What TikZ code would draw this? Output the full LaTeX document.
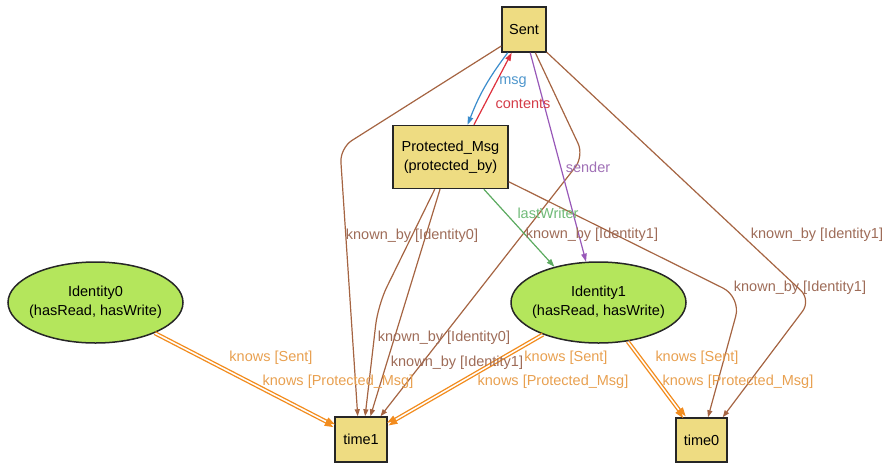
\documentclass[tikz,border=0pt]{standalone}
\usepackage{fontspec}
\setmainfont{Liberation Sans}
\usetikzlibrary{arrows.meta,shapes.geometric}

\definecolor{boxfill}{RGB}{238,220,130}
\definecolor{identfill}{RGB}{180,230,92}
\definecolor{kbline}{RGB}{165,100,66}
\definecolor{kbtext}{RGB}{158,108,88}
\definecolor{knline}{RGB}{242,140,30}
\definecolor{kntext}{RGB}{232,160,80}
\definecolor{lwline}{RGB}{92,170,96}
\definecolor{lwtext}{RGB}{112,186,120}
\definecolor{sdline}{RGB}{152,88,184}
\definecolor{sdtext}{RGB}{160,112,182}
\definecolor{msline}{RGB}{58,140,204}
\definecolor{mstext}{RGB}{78,150,204}
\definecolor{ctline}{RGB}{222,48,60}
\definecolor{cttext}{RGB}{212,60,72}

\begin{document}
\begin{tikzpicture}[x=1pt,y=-1pt,
  every node/.style={font=\fontsize{14.5}{19}\selectfont},
  sigbox/.style={rectangle, draw=black!85, line width=1.5pt, fill=boxfill,
    inner sep=0pt, align=center},
  identnode/.style={ellipse, draw=black!85, line width=1.5pt, fill=identfill,
    minimum width=175pt, minimum height=81pt, inner xsep=-10pt, inner ysep=0pt,
    align=center},
  edgelabel/.style={inner sep=0pt},
  kb/.style={draw=kbline, line width=1.2pt, rounded corners=14pt,
    -{Triangle[length=7pt,width=5pt]}},
  kn/.style={draw=knline, line width=1.2pt, -{Triangle[length=9pt,width=6pt]}},
  field/.style={line width=1.2pt, -{Triangle[length=8pt,width=5.5pt]}}]

\useasboundingbox (0,0) rectangle (884,464);

% atoms and signatures
\node[sigbox, minimum width=44pt, minimum height=45pt] (s) at (524,29.5) {Sent};
\node[sigbox, minimum width=115pt, minimum height=63pt] (pm) at (450.5,157)
  {Protected\_Msg\\(protected\_by)};
\node[identnode] (i0) at (95.5,302.5) {Identity0\\(hasRead, hasWrite)};
\node[identnode] (i1) at (598.5,302.5) {Identity1\\(hasRead, hasWrite)};
\node[sigbox, minimum width=52pt, minimum height=45pt] (t1) at (361,439.5) {time1};
\node[sigbox, minimum width=51pt, minimum height=44pt] (t0) at (701.5,440) {time0};

% known_by relation
\draw[kb] (s.216) -- (340,148) -- (t1.98);
\draw[kb] (s.-64) -- (584,156) -- (t1.50);
\draw[kb] (s.-45) -- (811,300) -- (t0.47);
\draw[kb, rounded corners=20pt] (pm.-23) -- (741,297) -- (t0.74);
\draw[kb, rounded corners=20pt] (pm.244) -- (378,305) -- (t1.80);
\draw[kb] (pm.252) -- (t1.68);

% knows relation (two tuples per pair)
\draw[kn, transform canvas={shift={(0.7pt,1.35pt)}}] (i0) -- (t1);
\draw[kn, transform canvas={shift={(-0.7pt,-1.35pt)}}] (i0) -- (t1);
\draw[kn, transform canvas={shift={(0.75pt,-1.3pt)}}] (i1) -- (t1);
\draw[kn, transform canvas={shift={(-0.75pt,1.3pt)}}] (i1) -- (t1);
\draw[kn, transform canvas={shift={(1.2pt,0.9pt)}}] (i1) -- (t0);
\draw[kn, transform canvas={shift={(-1.2pt,-0.9pt)}}] (i1) -- (t0);

% message fields
\draw[field, draw=msline] (s.235) to[bend right=8] (pm.62);
\draw[field, draw=ctline] (pm.54) -- (s.242);
\draw[field, draw=sdline] (s.-75) -- (i1.107);
\draw[field, draw=lwline] (pm.-44) -- (i1.141);

% edge labels
\node[edgelabel, text=mstext] (lmsg) at (513,82) {msg};
\node[edgelabel, text=cttext] (lct) at (523,104) {contents};
\node[edgelabel, text=sdtext] (lsd) at (588,167) {sender};
\node[edgelabel, text=lwtext] (llw) at (548,213) {lastWriter};

\node[edgelabel, text=kbtext] (lk1) at (412,236) {known\_by [Identity0]};
\node[edgelabel, text=kbtext] (lk2) at (592,235) {known\_by [Identity1]};
\node[edgelabel, text=kbtext] (lk3) at (817,235) {known\_by [Identity1]};
\node[edgelabel, text=kbtext] (lk4) at (800,288) {known\_by [Identity1]};
\node[edgelabel, text=kbtext] (lk5) at (444,338) {known\_by [Identity0]};
\node[edgelabel, text=kbtext] (lk6) at (457,363) {known\_by [Identity1]};

\node[edgelabel, text=kntext] (ln1) at (271,358) {knows [Sent]};
\node[edgelabel, text=kntext] (ln2) at (338,382) {knows [Protected\_Msg]};
\node[edgelabel, text=kntext] (ln3) at (566,358) {knows [Sent]};
\node[edgelabel, text=kntext] (ln4) at (553,382) {knows [Protected\_Msg]};
\node[edgelabel, text=kntext] (ln5) at (697,358) {knows [Sent]};
\node[edgelabel, text=kntext] (ln6) at (738,382) {knows [Protected\_Msg]};
\end{tikzpicture}
\end{document}
